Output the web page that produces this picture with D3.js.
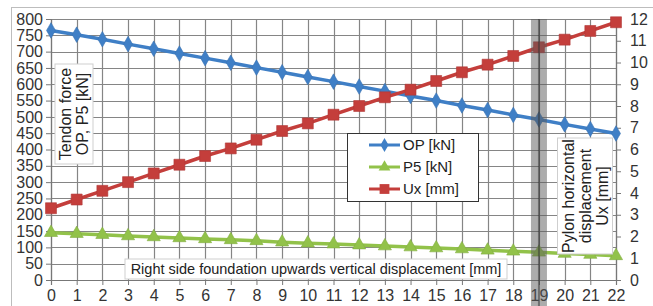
<!DOCTYPE html>
<html>
<head>
<meta charset="utf-8">
<script src="https://cdn.jsdelivr.net/npm/d3@7.9.0/dist/d3.min.js"></script>
<style>
  body { margin: 0; background: #fff; }
  svg text { font-family: "Liberation Sans", Arial, sans-serif; fill: #222; }
</style>
</head>
<body>
<svg id="chart" width="653" height="306"></svg>
<script>
// x: right side foundation upwards vertical displacement [mm]
const steps = d3.range(0, 23);
const opValues = [765, 752, 738, 723, 709, 694, 680, 666, 651, 637, 622, 608, 593, 579, 564, 550, 535, 521, 506, 492, 477, 463, 449];
const p5Values = [145, 142, 139, 135, 132, 129, 126, 123, 120, 116, 113, 110, 107, 104, 101, 98, 95, 91, 88, 85, 81, 78, 74];
const uxValues = [3.3, 3.7, 4.1, 4.5, 4.9, 5.3, 5.7, 6.05, 6.45, 6.85, 7.2, 7.6, 8.0, 8.4, 8.75, 9.15, 9.55, 9.9, 10.3, 10.7, 11.05, 11.45, 11.85];
const leftTicks = d3.range(0, 801, 50);
const rightTicks = d3.range(0, 13, 1);
const highlightStep = 19;

const svg = d3.select('#chart');

const x = d3.scaleLinear().domain([0, 22]).range([51, 616]);
const yL = d3.scaleLinear().domain([0, 800]).range([280, 19]);
const yR = d3.scaleLinear().domain([0, 12]).range([280, 19]);

// outer frame
svg.append('rect')
  .attr('x', 11.5).attr('y', 7.5).attr('width', 660).attr('height', 320)
  .attr('fill', 'none').attr('stroke', '#bdbdbd');

// gridlines
svg.append('g').selectAll('line').data(leftTicks).join('line')
  .attr('x1', x(0)).attr('x2', x(22))
  .attr('y1', d => Math.round(yL(d)) + 0.5).attr('y2', d => Math.round(yL(d)) + 0.5)
  .attr('stroke', '#858585').attr('stroke-width', 1.2);
svg.append('g').selectAll('line').data(steps).join('line')
  .attr('x1', d => Math.round(x(d)) + 0.5).attr('x2', d => Math.round(x(d)) + 0.5)
  .attr('y1', yL(800)).attr('y2', yL(0))
  .attr('stroke', '#858585').attr('stroke-width', 1.2);

// axes
const leftAxis = svg.append('g').attr('transform', `translate(${x(0)},0)`)
  .call(d3.axisLeft(yL).tickValues(leftTicks).tickSize(5).tickPadding(3));
const rightAxis = svg.append('g').attr('transform', `translate(${x(22)},0)`)
  .call(d3.axisRight(yR).tickValues(rightTicks).tickSize(5).tickPadding(9));
const bottomAxis = svg.append('g').attr('transform', `translate(0,${yL(0)})`)
  .call(d3.axisBottom(x).tickValues(steps).tickSize(5).tickPadding(5));
[leftAxis, rightAxis, bottomAxis].forEach(g => {
  g.select('.domain').attr('stroke', '#777').attr('stroke-width', 1.2);
  g.selectAll('.tick line').attr('stroke', '#777');
  g.selectAll('.tick text').attr('font-size', 16).style('fill', '#333');
});

// series
const lineOf = (scale, vals) => d3.line().x((d, i) => x(steps[i])).y(d => scale(d))(vals);
const series = [
  { name: 'OP [kN]', vals: opValues, scale: yL, color: '#3f7fc6', shape: d3.symbolDiamond, size: 70 },
  { name: 'P5 [kN]', vals: p5Values, scale: yL, color: '#92c24a', shape: d3.symbolTriangle, size: 75 },
  { name: 'Ux [mm]', vals: uxValues, scale: yR, color: '#c43e3b', shape: d3.symbolSquare, size: 120 }
];
series.forEach(s => {
  svg.append('path').attr('d', lineOf(s.scale, s.vals))
    .attr('fill', 'none').attr('stroke', s.color).attr('stroke-width', 3.5);
  svg.append('g').selectAll('path').data(s.vals).join('path')
    .attr('transform', (d, i) => `translate(${x(steps[i])},${s.scale(d)})`)
    .attr('d', d3.symbol().type(s.shape).size(s.size))
    .attr('fill', s.color).attr('stroke', d3.color(s.color).darker(0.3)).attr('stroke-width', 0.6);
});

// highlighted step band
svg.append('rect')
  .attr('x', x(highlightStep) - 8).attr('y', yL(800))
  .attr('width', 16).attr('height', 306 - yL(800))
  .attr('fill', '#5a5a5a').attr('opacity', 0.5);
svg.append('line')
  .attr('x1', x(highlightStep)).attr('x2', x(highlightStep))
  .attr('y1', yL(800)).attr('y2', 306)
  .attr('stroke', '#333').attr('stroke-width', 2).attr('opacity', 0.5);

// axis title boxes
function titleBox(cx, cy, w, h, lines, rotate, size) {
  const g = svg.append('g').attr('transform', `translate(${cx},${cy})`);
  g.append('rect').attr('x', -w / 2).attr('y', -h / 2).attr('width', w).attr('height', h)
    .attr('fill', '#fff').attr('stroke', '#cfcfcf');
  const t = g.append('g').attr('transform', rotate ? 'rotate(-90)' : null);
  const lh = size * 1.05;
  lines.forEach((ln, i) => {
    t.append('text').attr('text-anchor', 'middle')
      .attr('y', (i - (lines.length - 1) / 2) * lh + size * 0.36)
      .attr('font-size', size).text(ln);
  });
}
titleBox(74, 114, 38, 100, ['Tendon force', 'OP, P5 [kN]'], true, 16);
titleBox(585, 196, 55, 116, ['Pylon horizontal', 'displacement', 'Ux [mm]'], true, 16);
titleBox(316, 269, 382, 20, ['Right side foundation upwards vertical displacement [mm]'], false, 14.5);

// legend
const legend = svg.append('g').attr('transform', 'translate(347,133)');
legend.append('rect').attr('x', 0.5).attr('y', 0.5).attr('width', 131).attr('height', 68)
  .attr('fill', '#fff').attr('stroke', '#333');
series.forEach((s, i) => {
  const ly = 12 + i * 22;
  legend.append('line').attr('x1', 22).attr('x2', 53).attr('y1', ly).attr('y2', ly)
    .attr('stroke', s.color).attr('stroke-width', 3);
  legend.append('path').attr('transform', `translate(37.5,${ly})`)
    .attr('d', d3.symbol().type(s.shape).size(s.size * 0.8)).attr('fill', s.color);
  legend.append('text').attr('x', 56).attr('y', ly + 5).attr('font-size', 15).text(s.name);
});
</script>
</body>
</html>
